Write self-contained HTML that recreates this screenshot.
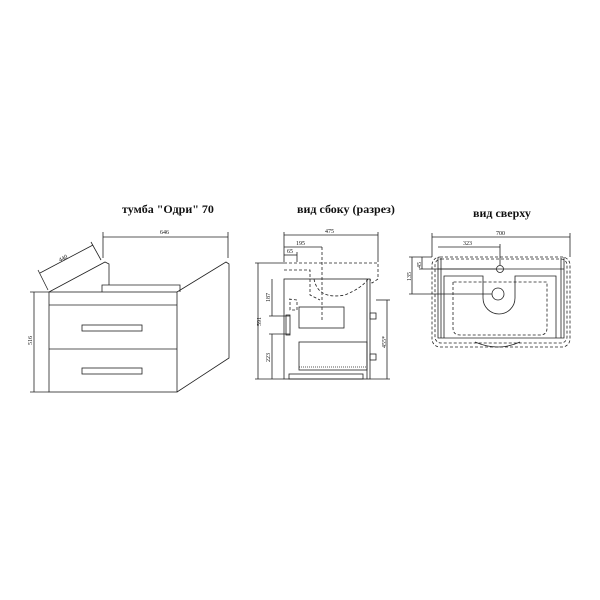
<!DOCTYPE html>
<html><head><meta charset="utf-8"><style>
html,body{margin:0;padding:0;background:#fff;width:600px;height:600px;overflow:hidden}
svg text{font-family:"Liberation Serif",serif;fill:#111}
</style></head><body>
<svg width="600" height="600" viewBox="0 0 600 600" xmlns="http://www.w3.org/2000/svg">
<g stroke="#222" fill="none" stroke-width="0.8">
<!-- Front / perspective view -->
<text x="122" y="213" font-size="12" stroke="none" font-weight="bold">тумба "Одри" 70</text>
<rect x="49" y="292" width="128" height="100" fill="#fff"/>
<line x1="49" y1="305" x2="177" y2="305"/>
<line x1="49" y1="349" x2="177" y2="349"/>
<rect x="82" y="325" width="60" height="6"/>
<rect x="82" y="368" width="60" height="6"/>
<polyline points="49,292 105,262 109,264 109,285"/>
<polyline points="102,292 102,285 180,285 180,292"/>
<polyline points="177,292 226,262 229,264 229,358 177,392"/>
<line x1="103" y1="237" x2="228" y2="237"/>
<line x1="103" y1="232" x2="103" y2="258"/><line x1="228" y1="232" x2="228" y2="258"/>
<text x="160" y="234" font-size="6" stroke="none">646</text>
<line x1="40" y1="273" x2="93" y2="245"/>
<line x1="38" y1="270" x2="48" y2="290"/><line x1="91" y1="242" x2="101" y2="260"/>
<text x="60" y="262" font-size="6" stroke="none" transform="rotate(-28 60 262)">440</text>
<line x1="34" y1="292" x2="34" y2="392"/>
<line x1="30" y1="292" x2="49" y2="292"/><line x1="30" y1="392" x2="49" y2="392"/>
<text x="32" y="345" font-size="6" stroke="none" transform="rotate(-90 32 345)">516</text>

<!-- Side view -->
<text x="297" y="213" font-size="12" stroke="none" font-weight="bold">вид сбоку (разрез)</text>
<rect x="284" y="279" width="86" height="100" fill="#fff"/>
<line x1="367" y1="279" x2="367" y2="379"/>
<rect x="299" y="307" width="45" height="21"/>
<rect x="299" y="342" width="68" height="28"/>
<line x1="299" y1="367" x2="367" y2="367" stroke-dasharray="1 1"/>
<rect x="289" y="374" width="74" height="5"/>
<rect x="286" y="315" width="4" height="20"/>
<rect x="370" y="313" width="6" height="6"/><rect x="370" y="354" width="6" height="6"/>
<g stroke-dasharray="3 2">
<polyline points="284,263 378,263 378,279 372,283 370,279"/>
<polyline points="284,270 310,270 310,295 320,300"/>
<path d="M314,279 Q318,300 345,295 Q362,288 368,279"/>
<polyline points="289,299 297,300 297,310 290,310 290,299"/>
<line x1="322" y1="247" x2="322" y2="320"/>
</g>
<line x1="258" y1="263" x2="258" y2="379"/>
<line x1="255" y1="263" x2="284" y2="263"/><line x1="255" y1="379" x2="284" y2="379"/>
<text x="261" y="326" font-size="6" stroke="none" transform="rotate(-90 261 326)">591</text>
<line x1="272" y1="279" x2="272" y2="316"/><line x1="269" y1="316" x2="290" y2="316"/>
<text x="270" y="302" font-size="6" stroke="none" transform="rotate(-90 270 302)">187</text>
<line x1="272" y1="334" x2="272" y2="379"/><line x1="269" y1="334" x2="290" y2="334"/>
<text x="270" y="362" font-size="6" stroke="none" transform="rotate(-90 270 362)">223</text>
<line x1="387" y1="300" x2="387" y2="379"/>
<line x1="376" y1="300" x2="390" y2="300"/><line x1="370" y1="379" x2="390" y2="379"/>
<text x="386" y="348" font-size="6" stroke="none" transform="rotate(-90 386 348)">455*</text>
<line x1="284" y1="235" x2="378" y2="235"/>
<line x1="284" y1="232" x2="284" y2="262"/><line x1="378" y1="232" x2="378" y2="262"/>
<text x="325" y="233" font-size="6" stroke="none">475</text>
<line x1="284" y1="247" x2="322" y2="247"/>
<text x="296" y="245" font-size="6" stroke="none">195</text>
<line x1="284" y1="255" x2="297" y2="255"/><line x1="297" y1="252" x2="297" y2="262"/>
<text x="287" y="253" font-size="6" stroke="none">65</text>

<!-- Top view -->
<text x="473" y="217" font-size="12" stroke="none" font-weight="bold">вид сверху</text>
<rect x="432" y="257" width="138" height="90" rx="8" stroke-dasharray="3 2"/>
<rect x="435" y="259" width="132" height="84" rx="6" stroke-dasharray="3 2"/>
<polyline points="438,257 438,338 564,338 564,257"/>
<line x1="441" y1="258" x2="441" y2="338"/><line x1="561" y1="258" x2="561" y2="338"/>
<line x1="438" y1="269" x2="564" y2="269"/>
<path d="M444,338 L444,276 L483,276 L483,298 A16 16 0 0 0 515,298 L515,276 L556,276 L556,338"/>
<path d="M453,282 L453,328 Q453,335 460,335 L540,335 Q547,335 547,328 L547,282 Z" stroke-dasharray="3 2"/>
<circle cx="500" cy="269" r="3.5"/>
<circle cx="498" cy="294" r="6"/>
<path d="M475,342 Q498,352 520,342"/>
<line x1="432" y1="237" x2="570" y2="237"/>
<line x1="432" y1="233" x2="432" y2="257"/><line x1="570" y1="233" x2="570" y2="257"/>
<text x="496" y="235" font-size="6" stroke="none">700</text>
<line x1="438" y1="247" x2="500" y2="247"/><line x1="500" y1="244" x2="500" y2="265"/>
<text x="463" y="245" font-size="6" stroke="none">323</text>
<line x1="412" y1="257" x2="412" y2="294"/>
<line x1="409" y1="294" x2="492" y2="294"/><line x1="409" y1="257" x2="432" y2="257"/>
<text x="411" y="281" font-size="6" stroke="none" transform="rotate(-90 411 281)">135</text>
<line x1="422" y1="257" x2="422" y2="269"/><line x1="419" y1="269" x2="496" y2="269"/>
<text x="421" y="268" font-size="6" stroke="none" transform="rotate(-90 421 268)">45</text>
</g>
</svg>
</body></html>
